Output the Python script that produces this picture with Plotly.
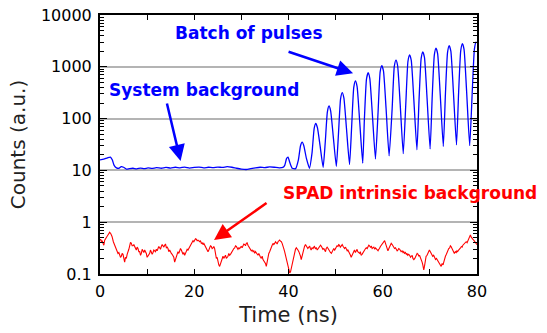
import plotly.graph_objects as go

# ---------------- data ----------------
# System background + batch of pulses (blue)
blue_t = [0, 0.8, 1.6, 2.2, 2.6, 3.0, 3.5, 4.0, 4.5, 5.0, 5.6, 6.2, 7.0, 7.8, 8.6, 9.4,
          10.2, 11.0, 12.0, 13.0, 14.0, 15.0, 16.0, 17.0, 18.0, 19.0, 20.0, 21.0, 22.0,
          23.0, 24.0, 25.0, 26.0, 27.0, 28.0, 29.0, 30.0, 31.0, 32.0, 33.0, 34.0, 35.0,
          36.0, 37.0, 38.0, 38.8,
          39.2, 39.6, 39.9, 40.3, 40.8, 41.5,
          42.1, 42.55, 42.9, 43.25, 43.8, 44.45,
          45.0, 45.45, 45.8, 46.15, 46.7, 47.35,
          47.8, 48.25, 48.6, 48.95, 49.5, 50.15,
          50.6, 51.05, 51.4, 51.75, 52.3, 52.95,
          53.4, 53.85, 54.2, 54.55, 55.1, 55.75,
          56.1, 56.55, 56.9, 57.25, 57.8, 58.45,
          59.0, 59.45, 59.8, 60.15, 60.7, 61.35,
          62.0, 62.45, 62.8, 63.15, 63.7, 64.35,
          64.9, 65.35, 65.7, 66.05, 66.6, 67.25,
          67.7, 68.15, 68.5, 68.85, 69.4, 70.05,
          70.5, 70.95, 71.3, 71.65, 72.2, 72.85,
          73.3, 73.75, 74.1, 74.45, 75.0, 75.65,
          76.1, 76.55, 76.9, 77.25, 77.8, 78.45,
          79.0, 79.45, 79.8, 80.0]
blue_v = [16, 16.5, 17.5, 18, 16, 12.5, 11.2, 11, 11.8, 11.5, 10.6, 10.8, 11, 10.7, 11.1, 10.8,
          11.2, 10.9, 11.3, 11, 11.4, 11.1, 11.5, 11.2, 11.6, 11.1, 11.4, 11.6, 11.2,
          11.5, 11.3, 11.6, 11.4, 11.8, 11.5, 11.0, 10.6, 10.4, 10.8, 11.2, 11.5, 11.3,
          11.7, 11.5, 11.2, 11.4,
          12.5, 17, 18, 14, 11, 10.8,
          16, 30, 35, 30, 17, 11,
          22, 65, 81, 66, 30, 11.5,
          35, 135, 175, 140, 45, 12,
          50, 240, 316, 250, 65, 13,
          70, 400, 532, 420, 90, 13.8,
          95, 580, 769, 600, 120, 16.6,
          130, 800, 1050, 830, 160, 19,
          160, 1020, 1350, 1060, 190, 21,
          200, 1280, 1700, 1330, 230, 25,
          230, 1450, 1950, 1520, 250, 26,
          270, 1700, 2300, 1780, 290, 29,
          300, 1900, 2570, 2000, 320, 31,
          320, 2050, 2800, 2180, 330, 30,
          340, 2200, 3000, 2900]

# SPAD intrinsic background (red)
red_t = [0.0, 0.14, 0.28, 0.46, 0.64, 0.82, 1.0, 1.24, 1.48, 1.76, 2.05, 2.3, 2.55, 2.83,
         3.11, 3.29, 3.47, 3.65, 3.82, 4.0, 4.17, 4.35, 4.53, 4.7, 4.88, 5.05, 5.23, 5.41,
         5.59, 5.76, 5.94, 6.12, 6.30, 6.47, 6.65, 6.82, 7.00, 7.18, 7.36, 7.53, 7.71, 7.88,
         8.06, 8.24, 8.42, 8.6, 8.77, 8.95, 9.13, 9.3, 9.48, 9.65, 9.83, 10.0, 10.19, 10.36,
         10.54, 10.71, 10.89, 11.07, 11.25, 11.42, 11.60, 11.77, 11.95, 12.13, 12.31, 12.48,
         12.66, 12.83, 13.01, 13.19, 13.37, 13.55, 13.72, 13.9, 14.08, 14.25, 14.43, 14.6,
         14.78, 14.96, 15.14, 15.31, 15.49, 15.66, 15.84, 16.02, 16.20, 16.37, 16.55, 16.73,
         16.91, 17.08, 17.26, 17.43, 17.61, 17.79, 17.97, 18.14, 18.32, 18.5, 18.67, 18.85,
         19.03, 19.2, 19.38, 19.55, 19.73, 19.91, 20.09, 20.26, 20.44, 20.62, 20.80, 20.97,
         21.15, 21.32, 21.50, 21.68, 21.86, 22.03, 22.21, 22.38, 22.56, 22.74, 22.92, 23.09,
         23.27, 23.44, 23.62, 23.8, 23.98, 24.15, 24.33, 24.5, 24.69, 24.86, 25.04, 25.21,
         25.39, 25.57, 25.75, 25.92, 26.10, 26.27, 26.45, 26.63, 26.81, 26.98, 27.16, 27.33,
         27.51, 27.69, 27.87, 28.04, 28.22, 28.4, 28.58, 28.75, 28.93, 29.1, 29.28, 29.46,
         29.64, 29.81, 29.99, 30.16, 30.34, 30.52, 30.70, 30.87, 31.05, 31.22, 31.40, 31.58,
         31.76, 31.93, 32.11, 32.29, 32.47, 32.64, 32.82, 32.99, 33.17, 33.35, 33.53, 33.7,
         33.88, 34.05, 34.23, 34.41, 34.59, 34.76, 34.94, 35.11, 35.29, 35.47, 35.65, 35.82,
         36.00, 36.18, 36.36, 36.53, 36.71, 36.88, 37.06, 37.24, 37.42, 37.59, 37.77, 37.94,
         38.12, 38.3, 38.48, 38.65, 38.83, 39.0, 39.18, 39.36, 39.54, 39.72, 39.9, 40.08,
         40.25, 40.43, 40.6, 40.78, 40.95, 41.12, 41.3, 41.48, 41.66, 41.83, 42.0, 42.2,
         42.4, 42.55, 42.7, 42.9, 43.1, 43.25, 43.4, 43.6, 43.8, 43.95, 44.1, 44.3,
         44.5, 44.65, 44.8, 45.0, 45.2, 45.35, 45.5, 45.7, 45.9, 46.1, 46.3, 46.45,
         46.6, 46.8, 47.0, 47.15, 47.3, 47.5, 47.7, 47.85, 48.0, 48.2, 48.4, 48.55,
         48.7, 48.9, 49.1, 49.25, 49.4, 49.6, 49.8, 49.95, 50.1, 50.3, 50.5, 50.65,
         50.8, 51.0, 51.2, 51.4, 51.6, 51.75, 51.9, 52.1, 52.3, 52.45, 52.6, 52.8,
         53.0, 53.15, 53.3, 53.5, 53.7, 53.85, 54.0, 54.2, 54.4, 54.55, 54.7, 54.9,
         55.1, 55.25, 55.4, 55.6, 55.8, 56.0, 56.2, 56.35, 56.5, 56.7, 56.9, 57.05,
         57.2, 57.4, 57.6, 57.75, 57.9, 58.1, 58.3, 58.45, 58.6, 58.8, 59.0, 59.15,
         59.3, 59.5, 59.7, 59.85, 60.0, 60.2, 60.4, 60.55, 60.7, 60.9, 61.1, 61.3,
         61.5, 61.65, 61.8, 62.0, 62.2, 62.35, 62.5, 62.7, 62.9, 63.05, 63.2, 63.4,
         63.6, 63.75, 63.9, 64.1, 64.3, 64.45, 64.6, 64.8, 65.0, 65.15, 65.3, 65.5,
         65.7, 65.9, 66.1, 66.25, 66.4, 66.6, 66.8, 66.95, 67.1, 67.3, 67.5, 67.65,
         67.8, 68.0, 68.2, 68.35, 68.5, 68.6, 68.7, 68.85, 69.0, 69.1, 69.2, 69.4,
         69.6, 69.75, 69.9, 70.1, 70.3, 70.45, 70.6, 70.8, 71.0, 71.2, 71.4, 71.55,
         71.7, 71.9, 72.1, 72.25, 72.4, 72.6, 72.8, 72.95, 73.1, 73.3, 73.5, 73.65,
         73.8, 74.0, 74.2, 74.35, 74.5, 74.7, 74.9, 75.05, 75.2, 75.4, 75.6, 75.75,
         75.9, 76.1, 76.3, 76.5, 76.7, 76.85, 77.0, 77.2, 77.4, 77.55, 77.7, 77.9,
         78.1, 78.25, 78.4, 78.5, 78.6, 78.75, 78.9, 79.1, 79.3, 79.55, 79.8, 80.0]
red_v = [0.45, 0.47, 0.42, 0.44, 0.39, 0.36, 0.45, 0.50, 0.53, 0.58, 0.64, 0.60, 0.53, 0.42,
         0.36, 0.33, 0.31, 0.27, 0.25, 0.26, 0.23, 0.21, 0.22, 0.25, 0.24, 0.19, 0.17, 0.21,
         0.20, 0.24, 0.29, 0.30, 0.35, 0.41, 0.39, 0.35, 0.35, 0.37, 0.34, 0.30, 0.29, 0.33,
         0.31, 0.27, 0.27, 0.23, 0.25, 0.30, 0.28, 0.26, 0.29, 0.27, 0.25, 0.21, 0.22, 0.24,
         0.25, 0.29, 0.27, 0.24, 0.26, 0.29, 0.28, 0.27, 0.30, 0.28, 0.31, 0.34,
         0.32, 0.30, 0.34, 0.37, 0.35, 0.33, 0.36, 0.38, 0.32, 0.33, 0.31, 0.27,
         0.29, 0.26, 0.25, 0.24, 0.22, 0.21, 0.17, 0.19, 0.22, 0.25, 0.27, 0.25,
         0.28, 0.31, 0.29, 0.27, 0.24, 0.26, 0.23, 0.25, 0.27, 0.30, 0.29, 0.31,
         0.34, 0.36, 0.39, 0.41, 0.44, 0.42, 0.45, 0.48, 0.47, 0.44, 0.45, 0.43,
         0.42, 0.44, 0.39, 0.40, 0.37, 0.39, 0.36, 0.33, 0.31, 0.29, 0.27, 0.29,
         0.31, 0.35, 0.34, 0.31, 0.32, 0.34, 0.31, 0.26, 0.20, 0.21, 0.17, 0.15,
         0.14, 0.16, 0.19, 0.21, 0.22, 0.20, 0.21, 0.23, 0.20, 0.21, 0.22, 0.25,
         0.23, 0.24, 0.26, 0.28, 0.29, 0.31, 0.32, 0.35, 0.34, 0.32, 0.30, 0.32,
         0.31, 0.33, 0.34, 0.32, 0.36, 0.38, 0.37, 0.35, 0.39, 0.40, 0.36, 0.34,
         0.31, 0.30, 0.28, 0.29, 0.27, 0.28, 0.25, 0.27, 0.25, 0.24, 0.23, 0.25,
         0.22, 0.21, 0.20, 0.22, 0.19, 0.18, 0.17, 0.16, 0.14, 0.18, 0.22, 0.25,
         0.27, 0.31, 0.34, 0.36, 0.39, 0.37, 0.39, 0.42, 0.40, 0.38, 0.42, 0.44,
         0.45, 0.43, 0.42, 0.39, 0.36, 0.31, 0.27, 0.23, 0.20, 0.17, 0.15, 0.12,
         0.105, 0.11, 0.13, 0.16, 0.20, 0.24, 0.29, 0.30, 0.32, 0.31, 0.29, 0.27,
         0.25, 0.22, 0.19, 0.23, 0.27, 0.31, 0.34, 0.37, 0.35, 0.33, 0.31, 0.33,
         0.34, 0.31, 0.29, 0.32, 0.31, 0.33, 0.34, 0.31, 0.32, 0.29, 0.31, 0.33,
         0.35, 0.36, 0.34, 0.32, 0.30, 0.31, 0.29, 0.27, 0.31, 0.33, 0.31, 0.29,
         0.28, 0.26, 0.25, 0.27, 0.28, 0.31, 0.29, 0.31, 0.32, 0.35, 0.34, 0.37,
         0.36, 0.33, 0.35, 0.37, 0.34, 0.32, 0.31, 0.33, 0.30, 0.28, 0.29, 0.27,
         0.25, 0.23, 0.21, 0.23, 0.25, 0.27, 0.29, 0.26, 0.28, 0.30, 0.27, 0.26,
         0.25, 0.27, 0.23, 0.24, 0.26, 0.28, 0.29, 0.31, 0.32, 0.31, 0.34, 0.36,
         0.35, 0.33, 0.34, 0.31, 0.32, 0.33, 0.30, 0.32, 0.31, 0.29, 0.28, 0.30,
         0.31, 0.34, 0.36, 0.37, 0.39, 0.42, 0.44, 0.40, 0.36, 0.31, 0.28, 0.31,
         0.35, 0.37, 0.39, 0.37, 0.35, 0.33, 0.31, 0.32, 0.30, 0.28, 0.29, 0.31,
         0.30, 0.28, 0.27, 0.28, 0.26, 0.27, 0.25, 0.26, 0.24, 0.25, 0.23, 0.24,
         0.23, 0.21, 0.22, 0.23, 0.20, 0.19, 0.20, 0.21, 0.22, 0.25, 0.24, 0.22,
         0.23, 0.21, 0.19, 0.17, 0.15, 0.13, 0.12, 0.14, 0.17, 0.19, 0.22, 0.23,
         0.25, 0.27, 0.29, 0.27, 0.25, 0.23, 0.22, 0.23, 0.21, 0.19, 0.20, 0.19,
         0.18, 0.17, 0.16, 0.15, 0.14, 0.16, 0.15, 0.17, 0.20, 0.22, 0.24, 0.26,
         0.29, 0.31, 0.32, 0.35, 0.34, 0.31, 0.29, 0.27, 0.25, 0.27, 0.26, 0.28,
         0.27, 0.29, 0.30, 0.32, 0.34, 0.33, 0.36, 0.38, 0.39, 0.41, 0.42, 0.40,
         0.45, 0.48, 0.53, 0.55, 0.57, 0.52, 0.49, 0.47, 0.45, 0.41, 0.39, 0.37]

x_ticks = [0, 10, 20, 30, 40, 50, 60, 70, 80]
x_labels = ["0", "", "20", "", "40", "", "60", "", "80"]
y_ticks = [0.1, 1, 10, 100, 1000, 10000]
y_labels = ["0.1", "1", "10", "100", "1000", "10000"]
y_minor = [m * d for d in [0.1, 1, 10, 100, 1000] for m in range(2, 10)]

# ---------------- figure ----------------
FONT = "DejaVu Sans"
fig = go.Figure()
fig.add_trace(go.Scatter(x=red_t, y=red_v, mode="lines",
                         line=dict(color="#ff0000", width=1.1), showlegend=False))
fig.add_trace(go.Scatter(x=blue_t, y=blue_v, mode="lines",
                         line=dict(color="#0000ff", width=1.3, shape="spline", smoothing=0.5),
                         showlegend=False))

fig.update_layout(
    width=547, height=333,
    margin=dict(l=100, r=70, t=15, b=59),
    paper_bgcolor="white", plot_bgcolor="white",
    font=dict(family=FONT, color="black", size=16),
)
fig.update_xaxes(
    range=[0, 80], tickvals=x_ticks, ticktext=x_labels, automargin=False,
    ticks="inside", ticklen=5, tickwidth=1.2, tickcolor="black", ticklabelstandoff=2,
    showline=True, linecolor="black", linewidth=2, mirror="ticks",
    showgrid=False, zeroline=False,
    tickfont=dict(size=16, family=FONT),
    title=dict(text="Time (ns)", font=dict(size=21, family=FONT, color="#222222"), standoff=7),
)
fig.update_yaxes(
    type="log", range=[-1, 4], tickvals=y_ticks, ticktext=y_labels, automargin=False,
    ticks="inside", ticklen=7, tickwidth=1.2, tickcolor="black", ticklabelstandoff=3,
    showline=True, linecolor="black", linewidth=2, mirror="ticks",
    showgrid=True, gridcolor="#b4b4b4", gridwidth=2, zeroline=False,
    minor=dict(tickvals=y_minor, ticks="inside", ticklen=4, tickwidth=1, tickcolor="black",
               showgrid=False),
    tickfont=dict(size=16, family=FONT),
    title=dict(text="Counts (a.u.)", font=dict(size=20, family=FONT, color="#222222"), standoff=10),
)

BOLD = dict(family=FONT, size=17)
# text labels
fig.add_annotation(x=31.6, y=3.65, xref="x", yref="y", text="<b>Batch of pulses</b>",
                   showarrow=False, font=dict(color="#0000ff", **BOLD))
fig.add_annotation(x=22.1, y=2.552, xref="x", yref="y", text="<b>System background</b>",
                   showarrow=False, font=dict(color="#0000ff", **BOLD))
fig.add_annotation(x=65.8, y=0.564, xref="x", yref="y", text="<b>SPAD intrinsic background</b>",
                   showarrow=False, font=dict(color="#ff0000", **BOLD))
# arrows
fig.add_annotation(x=53.7, y=2.875, xref="x", yref="y", text="", showarrow=True,
                   ax=-66, ay=-22, arrowhead=2, arrowsize=1.3, arrowwidth=2.5,
                   arrowcolor="#0000ff")
fig.add_annotation(x=17.1, y=1.181, xref="x", yref="y", text="", showarrow=True,
                   ax=-14, ay=-59, arrowhead=2, arrowsize=1.3, arrowwidth=2.5,
                   arrowcolor="#0000ff")
fig.add_annotation(x=24.2, y=-0.344, xref="x", yref="y", text="", showarrow=True,
                   ax=54, ay=-38, arrowhead=2, arrowsize=1.3, arrowwidth=2.5,
                   arrowcolor="#ff0000")

fig.write_html("out.html")
